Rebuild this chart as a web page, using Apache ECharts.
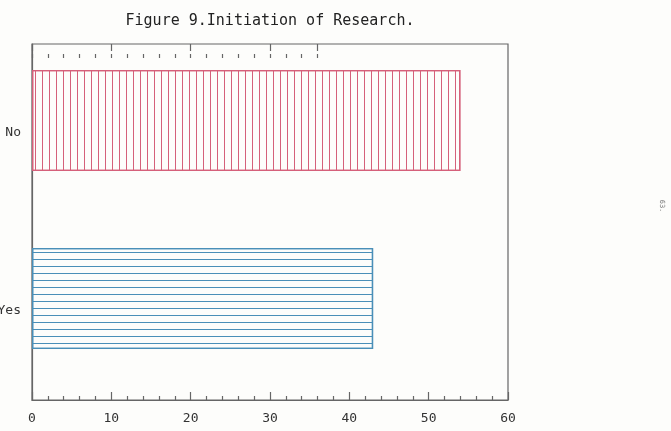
<!DOCTYPE html>
<html>
<head>
<meta charset="utf-8">
<script src="https://cdn.jsdelivr.net/npm/echarts@6/dist/echarts.min.js"></script>
<style>
html,body{margin:0;padding:0;background:#fdfdfb;}
#c{width:671px;height:431px;}
</style>
</head>
<body>
<div id="c"></div>
<script>
const titleText = 'Figure 9.Initiation of Research.';
const categories = ['Yes', 'No'];
const values = [43, 54];
const xTicks = [0, 10, 20, 30, 40, 50, 60];
const sideNote = '63.';

const red = '#d5607a';
const blue = '#4a8fb8';
const axisColor = '#666';
const font = 'DejaVu Sans Mono';

const chart = echarts.init(document.getElementById('c'), null, {renderer: 'canvas'});
chart.setOption({
  backgroundColor: '#fdfdfb',
  animation: false,
  graphic: [
    {type: 'text', x: 270, y: 21, style: {text: titleText, font: '15px "DejaVu Sans Mono"', fill: '#222', textAlign: 'center', textVerticalAlign: 'middle'}},
    {type: 'text', x: 662, y: 206, rotation: -Math.PI / 2, style: {text: sideNote, font: '7px "DejaVu Sans Mono"', fill: '#777', textAlign: 'center', textVerticalAlign: 'middle'}}
  ],
  grid: [
    {left: 32, right: 163, top: 44, bottom: 31, show: true, borderColor: axisColor, borderWidth: 1.2, backgroundColor: 'transparent', containLabel: false, outerBoundsMode: 'none'},
    {left: 32, top: 44, width: 36 * 476 / 60, height: 10, show: false, containLabel: false, outerBoundsMode: 'none'}
  ],
  xAxis: [
    {
      type: 'value', gridIndex: 0, min: xTicks[0], max: xTicks[xTicks.length - 1], interval: 10, position: 'bottom',
      axisLine: {show: true, lineStyle: {color: axisColor, width: 1.2}},
      axisTick: {show: true, inside: true, length: 8, lineStyle: {color: axisColor, width: 1.2}},
      minorTick: {show: true, splitNumber: 5, length: 4, lineStyle: {color: axisColor, width: 1.2}},
      splitLine: {show: false},
      axisLabel: {show: true, margin: 12, color: '#333', fontFamily: font, fontSize: 13}
    },
    {
      type: 'value', gridIndex: 1, min: 0, max: 36, interval: 2, position: 'top',
      axisLine: {show: false},
      axisTick: {show: true, inside: true, length: 4, lineStyle: {color: axisColor, width: 1.2}},
      splitLine: {show: false}, axisLabel: {show: false}
    },
    {
      type: 'value', gridIndex: 1, min: 0, max: 36, interval: 10, position: 'top',
      axisLine: {show: false},
      axisTick: {show: true, inside: true, length: 7, lineStyle: {color: axisColor, width: 1.2}},
      splitLine: {show: false}, axisLabel: {show: false}
    }
  ],
  yAxis: [
    {
      type: 'category', gridIndex: 0, data: categories,
      axisLine: {show: true, lineStyle: {color: axisColor, width: 1.2}},
      axisTick: {show: false},
      axisLabel: {margin: 11, color: '#333', fontFamily: font, fontSize: 13}
    },
    {type: 'value', gridIndex: 1, show: false}
  ],
  series: [
    {
      type: 'bar', xAxisIndex: 0, yAxisIndex: 0, barWidth: 101, barGap: 0,
      data: [
        {value: values[0], itemStyle: {color: '#fdfdfb', borderColor: blue, borderWidth: 1.3,
          decal: {symbol: 'rect', symbolSize: 1, color: blue, dashArrayX: [5, 0], dashArrayY: [1, 6]}}},
        {value: values[1], itemStyle: {color: '#fdfdfb', borderColor: red, borderWidth: 1.3,
          decal: {symbol: 'rect', symbolSize: 1, color: red, dashArrayX: [1, 6], dashArrayY: [5, 0]}}}
      ]
    },
    {
      type: 'bar', xAxisIndex: 0, yAxisIndex: 0, barWidth: 25, barGap: 0,
      data: ['-', '-'], itemStyle: {opacity: 0}
    }
  ]
});
</script>
</body>
</html>
